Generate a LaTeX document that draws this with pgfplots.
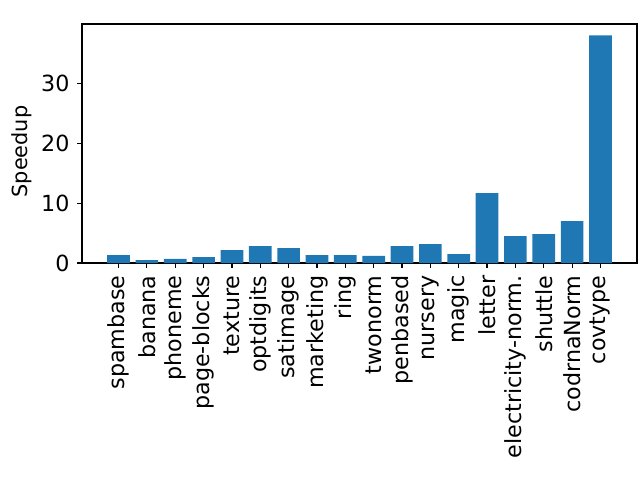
\documentclass[border=0pt]{standalone}
\usepackage{pgfplots}
\pgfplotsset{compat=1.18}
\usepackage{fontspec}
\setmainfont{DejaVu Sans}
\definecolor{mplblue}{HTML}{1F77B4}
\begin{document}
\fontsize{16}{19}\selectfont
\begin{tikzpicture}
\useasboundingbox (-59.04pt,-156.24pt) rectangle (401.76pt,189.36pt);
\begin{axis}[
  at={(0,0)}, anchor=south west,
  scale only axis, width=399.6pt, height=172.08pt,
  xmin=-1.29, xmax=18.29, ymin=0, ymax=39.9,
  xtick={0,...,17},
  xticklabels={spambase,banana,phoneme,page-blocks,texture,optdigits,satimage,marketing,ring,twonorm,penbased,nursery,magic,letter,electricity-norm.,shuttle,codrnaNorm,covtype},
  x tick label style={rotate=90, anchor=east, font=\fontsize{16}{19}\selectfont},
  y tick label style={font=\fontsize{16}{19}\selectfont},
  ytick={0,10,20,30},
  tick align=outside, tick pos=left,
  major tick length=3.5pt,
  every tick/.style={black, line width=0.8pt},
  axis line style={line width=0.8pt},
  /pgf/number format/assume math mode=true,
  ylabel={Speedup}, ylabel style={font=\fontsize{15}{18}\selectfont, at={(rel axis cs:-0.108,0.4665)}, anchor=center},
  ybar, bar width=0.8, bar shift=0pt,
]
\addplot[fill=mplblue, draw=none] coordinates {
(0,1.33) (1,0.5) (2,0.67) (3,1.0) (4,2.17) (5,2.83) (6,2.5) (7,1.33) (8,1.33) (9,1.17)
(10,2.83) (11,3.17) (12,1.5) (13,11.67) (14,4.5) (15,4.83) (16,7.0) (17,38.0)
};
\end{axis}
\end{tikzpicture}
\end{document}
